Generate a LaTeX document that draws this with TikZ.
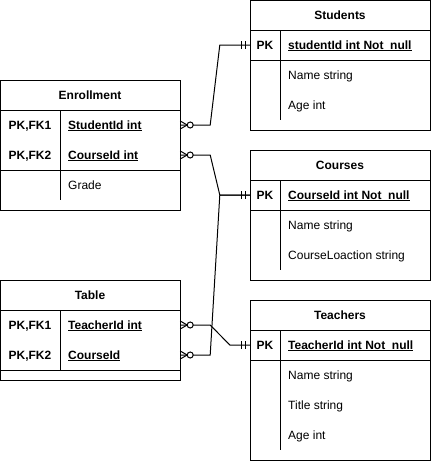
\documentclass[tikz,border=0pt]{standalone}
\usepackage{fontspec}
\setmainfont{Liberation Sans}
\usepackage{tikz}
\usetikzlibrary{calc}
\newcommand{\erfont}{\fontsize{12}{14}\selectfont}
\tikzset{
	erline/.style={line width=1pt},
	ertext/.style={font=\erfont, text height=8.6pt, text depth=0pt},
	ertitle/.style={ertext, font=\erfont\bfseries},
	erkey/.style={ertext, font=\erfont\bfseries},
	erfield/.style={ertext, anchor=west, inner sep=0pt},
	errow/.style={minimum width=180pt, minimum height=30pt, inner sep=0pt},
	zeromany/.pic={
		\draw[erline] (0,-4) -- (7,0) -- (0,4);
		\draw[erline,fill=white] (10,0) circle (3pt);
	},
	mandone/.pic={
		\draw[erline] (-8,-4) -- (-8,4);
		\draw[erline] (-4,-4) -- (-4,4);
	}
}
\newcommand{\keyname}[1]{\setbox0\hbox{#1}\rlap{\rule[-2pt]{\wd0}{0.9pt}}\box0}

\begin{document}
\begin{tikzpicture}[x=1pt,y=-1pt]
	\useasboundingbox (0,0) rectangle (431,461);

	% Students
	\draw[erline] (250,0.5) rectangle (430,130);
	\draw[erline] (250,30) -- (430,30);
	\draw[erline] (250,60) -- (430,60);
	\draw[erline] (280,30) -- (280,120);
	\node[ertitle] (stu) at (340,15) {Students};
	\node[errow] (stuPk) at (340,45) {};
	\node[erkey] at (265,45) {PK};
	\node[erfield,font=\erfont\bfseries] at (288,45) {\keyname{studentId int Not\_null}};
	\node[erfield] at (288,75) {Name string};
	\node[erfield] at (288,105) {Age int};

	% Enrollment
	\draw[erline] (0.5,80) rectangle (180,210);
	\draw[erline] (0.5,110) -- (180,110);
	\draw[erline] (0.5,170) -- (180,170);
	\draw[erline] (60,110) -- (60,200);
	\node[ertitle] (enr) at (90,95) {Enrollment};
	\node[errow] (enrSid) at (90,125) {};
	\node[errow] (enrCid) at (90,155) {};
	\node[erkey] at (30,125) {PK,FK1};
	\node[erkey] at (30,155) {PK,FK2};
	\node[erfield,font=\erfont\bfseries] at (68,125) {\keyname{StudentId int}};
	\node[erfield,font=\erfont\bfseries] at (68,155) {\keyname{CourseId int}};
	\node[erfield] at (68,185) {Grade};

	% Courses
	\draw[erline] (250,150) rectangle (430,280);
	\draw[erline] (250,180) -- (430,180);
	\draw[erline] (250,210) -- (430,210);
	\draw[erline] (280,180) -- (280,270);
	\node[ertitle] (cos) at (340,165) {Courses};
	\node[errow] (cosPk) at (340,195) {};
	\node[erkey] at (265,195) {PK};
	\node[erfield,font=\erfont\bfseries] at (288,195) {\keyname{CourseId int Not\_null}};
	\node[erfield] at (288,225) {Name string};
	\node[erfield] at (288,255) {CourseLoaction string};

	% Table
	\draw[erline] (0.5,280) rectangle (180,380);
	\draw[erline] (0.5,310) -- (180,310);
	\draw[erline] (0.5,370) -- (180,370);
	\draw[erline] (60,310) -- (60,370);
	\node[ertitle] (tab) at (90,295) {Table};
	\node[errow] (tabTid) at (90,325) {};
	\node[errow] (tabCid) at (90,355) {};
	\node[erkey] at (30,325) {PK,FK1};
	\node[erkey] at (30,355) {PK,FK2};
	\node[erfield,font=\erfont\bfseries] at (68,325) {\keyname{TeacherId int}};
	\node[erfield,font=\erfont\bfseries] at (68,355) {\keyname{CourseId}};

	% Teachers
	\draw[erline] (250,300) rectangle (430,460);
	\draw[erline] (250,330) -- (430,330);
	\draw[erline] (250,360) -- (430,360);
	\draw[erline] (280,330) -- (280,450);
	\node[ertitle] (tea) at (340,315) {Teachers};
	\node[errow] (teaPk) at (340,345) {};
	\node[erkey] at (265,345) {PK};
	\node[erfield,font=\erfont\bfseries] at (288,345) {\keyname{TeacherId int Not\_null}};
	\node[erfield] at (288,375) {Name string};
	\node[erfield] at (288,405) {Title string};
	\node[erfield] at (288,435) {Age int};

	% relations
	\draw[erline] (enrSid.east) -- ++(30,0) -- ($(stuPk.west)+(-30,0)$) -- (stuPk.west);
	\draw[erline] (enrCid.east) -- ++(30,0) -- ($(cosPk.west)+(-30,0)$) -- (cosPk.west);
	\draw[erline] (tabCid.east) -- ++(30,0) -- ($(cosPk.west)+(-30,0)$) -- (cosPk.west);
	\draw[erline] (tabTid.east) -- ++(30,0) -- ($(teaPk.west)+(-20,0)$) -- (teaPk.west);

	\foreach \n in {enrSid,enrCid,tabTid,tabCid}
		\pic at (\n.east) {zeromany};
	\foreach \n in {stuPk,cosPk,teaPk}
		\pic at (\n.west) {mandone};

\end{tikzpicture}
\end{document}
